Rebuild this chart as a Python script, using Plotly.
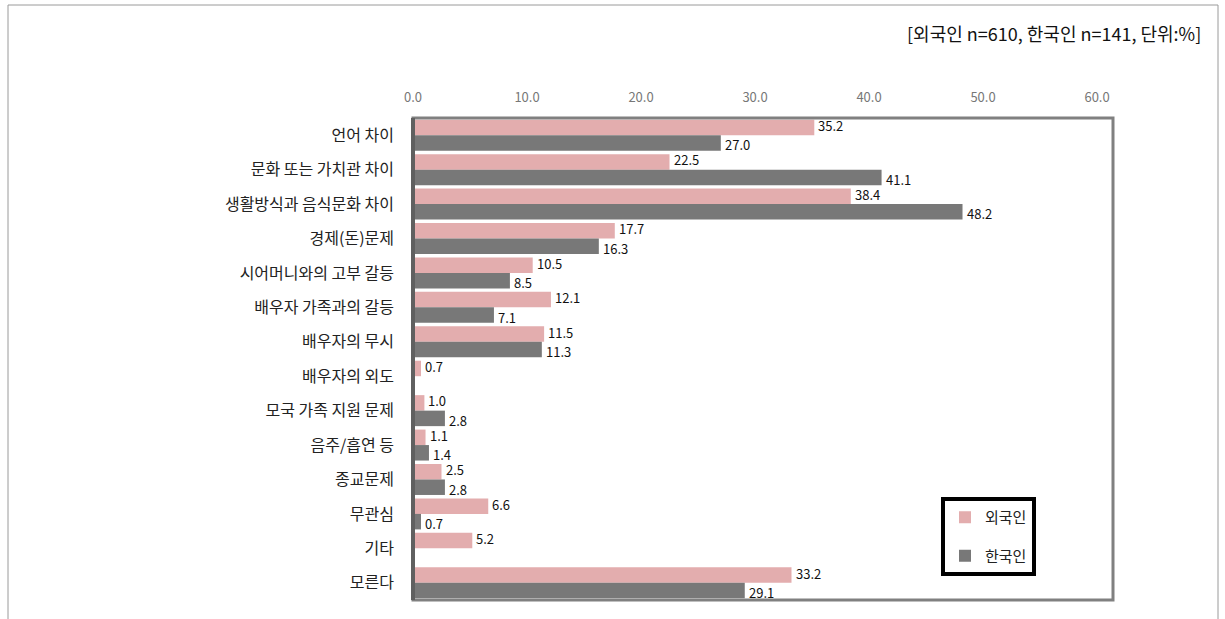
import plotly.graph_objects as go

# Survey categories (top to bottom)
categories = [
    "언어 차이",
    "문화 또는 가치관 차이",
    "생활방식과 음식문화 차이",
    "경제(돈)문제",
    "시어머니와의 고부 갈등",
    "배우자 가족과의 갈등",
    "배우자의 무시",
    "배우자의 외도",
    "모국 가족 지원 문제",
    "음주/흡연 등",
    "종교문제",
    "무관심",
    "기타",
    "모른다",
]

# Percent responses
foreigners = [35.2, 22.5, 38.4, 17.7, 10.5, 12.1, 11.5, 0.7, 1.0, 1.1, 2.5, 6.6, 5.2, 33.2]
koreans = [27.0, 41.1, 48.2, 16.3, 8.5, 7.1, 11.3, None, 2.8, 1.4, 2.8, 0.7, None, 29.1]

series_names = ["외국인", "한국인"]
tick_values = [0, 10, 20, 30, 40, 50, 60]

FONT = "Noto Sans CJK KR"
BARGAP = 0.1

# plot-area geometry in page pixels
L, R, T, B = 413, 1113, 118, 600
W, H = 1225, 619
pw, ph = R - L, B - T


def px(x):
    return (x - L) / pw


def py(y):
    return (B - y) / ph


fig = go.Figure()
fig.add_trace(go.Bar(
    y=categories, x=foreigners, orientation="h", name=series_names[0],
    legendgroup="f",
    marker=dict(color="#E3ADAE", line=dict(width=0)),
))
fig.add_trace(go.Bar(
    y=categories, x=koreans, orientation="h", name=series_names[1],
    legendgroup="k",
    marker=dict(color="#787878", line=dict(width=0)),
))

# value labels at the end of each bar; pink bar sits above the grey one
half = (1 - BARGAP) / 4
for i in range(len(categories)):
    for vals, offset, shift in ((foreigners, -half, 2), (koreans, half, -2)):
        v = vals[i]
        if v is None:
            continue
        fig.add_annotation(
            x=v, y=i + offset, xref="x", yref="y",
            text=f"{v:.1f}", showarrow=False,
            xanchor="left", yanchor="middle", xshift=2, yshift=shift,
            font=dict(family=FONT, size=13, color="#111111"),
        )

fig.update_layout(
    width=W, height=H,
    margin=dict(l=L, r=W - R, t=T, b=H - B, pad=0),
    paper_bgcolor="white", plot_bgcolor="white",
    barmode="group", bargap=BARGAP, bargroupgap=0.0,
    font=dict(family=FONT, color="#222222"),
    showlegend=True,
    legend=dict(
        x=px(941), y=py(497), xanchor="left", yanchor="top",
        bordercolor="#000000", borderwidth=4, bgcolor="white",
        font=dict(family=FONT, size=15, color="#222222"),
        itemwidth=30, tracegroupgap=16, traceorder="grouped",
    ),
)

fig.update_xaxes(
    side="top", range=[0, 61.4], tickvals=tick_values,
    ticktext=[f"{v:.1f}" for v in tick_values],
    showgrid=False, zeroline=False, showline=False, ticks="",
    tickfont=dict(family=FONT, size=13, color="#777777"),
    ticklabelstandoff=12,
)
fig.update_yaxes(
    autorange="reversed", showgrid=False, zeroline=False, showline=False,
    ticks="", tickfont=dict(family=FONT, size=16, color="#222222"),
    ticklabelstandoff=18,
)

shapes = [
    # outer frame of the figure
    dict(type="rect", xref="paper", yref="paper",
         x0=px(8), x1=px(1218), y0=py(640), y1=py(5),
         line=dict(color="#9a9a9a", width=1), layer="below"),
    # plot-area border
    dict(type="rect", xref="paper", yref="paper",
         x0=0, x1=1, y0=0, y1=1,
         line=dict(color="#808080", width=3)),
    # axis line on the left
    dict(type="line", xref="paper", yref="paper",
         x0=0, x1=0, y0=0, y1=1,
         line=dict(color="#606060", width=4)),
]
fig.update_layout(shapes=shapes)

fig.add_annotation(
    xref="paper", yref="paper", x=px(1203), y=py(33),
    xanchor="right", yanchor="middle", showarrow=False,
    text="[외국인 n=610, 한국인 n=141, 단위:%]",
    font=dict(family=FONT, size=18, color="#111111"),
)

fig.write_html("out.html")
